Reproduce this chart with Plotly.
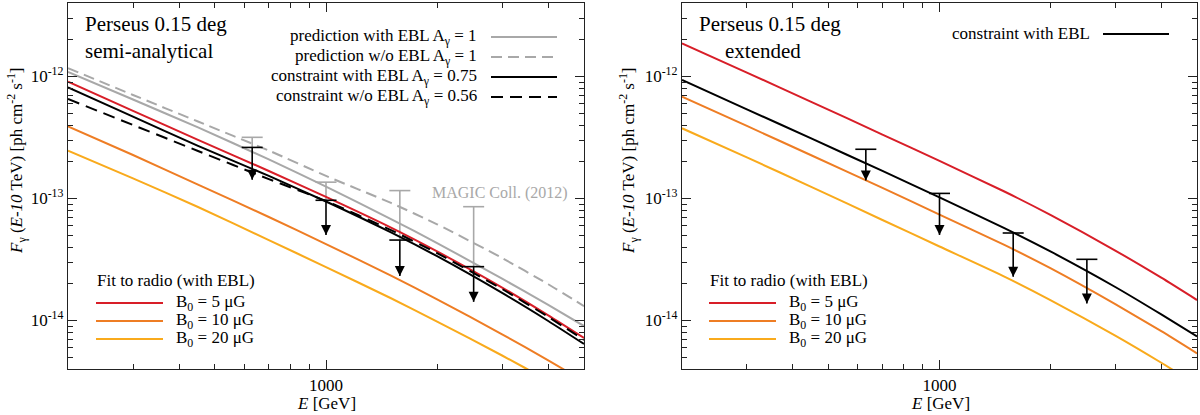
import plotly.graph_objects as go

energy = [200, 300, 450, 700, 1000, 1500, 2000, 3000, 4000, 5000]

# left panel: semi-analytical, F(E-10 TeV) in ph cm^-2 s^-1
pred_ebl = [1.09e-12, 6.47e-13, 3.82e-13, 2.09e-13, 1.25e-13, 6.78e-14, 4.31e-14, 2.20e-14, 1.34e-14, 9.0e-15]
pred_noebl = [1.17e-12, 7.05e-13, 4.27e-13, 2.47e-13, 1.53e-13, 9.19e-14, 6.14e-14, 3.25e-14, 1.98e-14, 1.31e-14]
constr_ebl = [8.15e-13, 4.69e-13, 2.70e-13, 1.53e-13, 9.44e-14, 5.27e-14, 3.36e-14, 1.68e-14, 9.90e-15, 6.41e-15]
constr_noebl = [6.53e-13, 4.00e-13, 2.45e-13, 1.44e-13, 9.53e-14, 5.50e-14, 3.56e-14, 1.81e-14, 1.07e-14, 6.92e-15]
radio5 = [9.05e-13, 5.23e-13, 3.02e-13, 1.68e-13, 1.03e-13, 5.77e-14, 3.68e-14, 1.86e-14, 1.10e-14, 7.18e-15]
radio10 = [3.90e-13, 2.27e-13, 1.30e-13, 7.05e-14, 4.23e-14, 2.33e-14, 1.49e-14, 7.70e-15, 4.71e-15, 3.17e-15]
radio20 = [2.46e-13, 1.46e-13, 8.51e-14, 4.56e-14, 2.74e-14, 1.52e-14, 9.80e-15, 5.16e-15, 3.21e-15, 2.20e-15]

# right panel: extended
ext_constr = [9.35e-13, 5.38e-13, 3.09e-13, 1.68e-13, 1.02e-13, 5.72e-14, 3.68e-14, 1.88e-14, 1.12e-14, 7.39e-15]
ext_radio5 = [1.87e-12, 1.075e-12, 6.17e-13, 3.34e-13, 2.03e-13, 1.14e-13, 7.33e-14, 3.74e-14, 2.24e-14, 1.47e-14]
ext_radio10 = [6.82e-13, 3.93e-13, 2.25e-13, 1.22e-13, 7.38e-14, 4.16e-14, 2.68e-14, 1.36e-14, 8.16e-15, 5.37e-15]
ext_radio20 = [3.76e-13, 2.17e-13, 1.24e-13, 6.66e-14, 4.04e-14, 2.29e-14, 1.47e-14, 7.51e-15, 4.50e-15, 2.96e-15]

# upper limits (cap value and arrow tip)
ul_energy = [631, 1000, 1585, 2512]
ul_semi = [2.62e-13, 9.66e-14, 4.56e-14, 2.76e-14]
ul_semi_tip = [1.42e-13, 5.02e-14, 2.31e-14, 1.42e-14]
ul_ext = [2.53e-13, 1.10e-13, 5.21e-14, 3.17e-14]
ul_ext_tip = [1.40e-13, 5.02e-14, 2.28e-14, 1.38e-14]
magic_top = [3.17e-13, 1.36e-13, 1.16e-13, 8.56e-14]

xtick_vals = [1000]
xtick_text = ['1000']
xminor_vals = [300, 400, 500, 600, 700, 800, 900, 2000, 3000, 4000]
ytick_vals = [1e-14, 1e-13, 1e-12]
ytick_text = ['10<sup>-14</sup>', '10<sup>-13</sup>', '10<sup>-12</sup>']
yminor_vals = [m * d for d in (1e-15, 1e-14, 1e-13, 1e-12) for m in range(2, 10)
               if 4e-15 < m * d < 4e-12]

RED = '#d81e28'
ORANGE = '#ee7d24'
YELLOW = '#f9aa1c'
GRAY = '#a8a8a8'
FONT = 'Liberation Serif'


def curve(y, color, dash='solid', xa='x', ya='y'):
    return go.Scatter(x=energy, y=y, mode='lines', xaxis=xa, yaxis=ya,
                      line=dict(color=color, width=2, dash=dash, shape='spline', smoothing=0.6),
                      showlegend=False, hoverinfo='skip')


def stems(top, bottom):
    xs, ys = [], []
    for e, t, b in zip(ul_energy, top, bottom):
        xs += [e, e, None]
        ys += [t, b, None]
    return xs, ys


def limits(top, tip, xa, ya):
    xs, ys = stems(top, tip)
    return [
        go.Scatter(x=xs, y=ys, mode='lines', xaxis=xa, yaxis=ya,
                   line=dict(color='black', width=1.6), showlegend=False, hoverinfo='skip'),
        go.Scatter(x=ul_energy, y=top, mode='markers', xaxis=xa, yaxis=ya,
                   marker=dict(symbol='line-ew', size=15, line=dict(color='black', width=1.6)),
                   showlegend=False, hoverinfo='skip'),
        go.Scatter(x=ul_energy, y=tip, mode='markers', xaxis=xa, yaxis=ya,
                   marker=dict(symbol='arrow-down', size=10, color='black', line=dict(width=0)),
                   showlegend=False, hoverinfo='skip'),
    ]


fig = go.Figure()

# left panel
fig.add_trace(curve(radio20, YELLOW))
fig.add_trace(curve(radio10, ORANGE))
fig.add_trace(curve(pred_ebl, GRAY))
fig.add_trace(curve(pred_noebl, GRAY, '11px,6px'))
mx, my = stems(magic_top, ul_semi)
fig.add_trace(go.Scatter(x=mx, y=my, mode='lines', line=dict(color=GRAY, width=1.6),
                         showlegend=False, hoverinfo='skip'))
fig.add_trace(go.Scatter(x=ul_energy, y=magic_top, mode='markers',
                         marker=dict(symbol='line-ew', size=15, line=dict(color=GRAY, width=1.6)),
                         showlegend=False, hoverinfo='skip'))
fig.add_trace(curve(radio5, RED))
fig.add_trace(curve(constr_ebl, 'black'))
fig.add_trace(curve(constr_noebl, 'black', '12px,7px'))
for t in limits(ul_semi, ul_semi_tip, 'x', 'y'):
    fig.add_trace(t)

# right panel
fig.add_trace(curve(ext_radio20, YELLOW, xa='x2', ya='y2'))
fig.add_trace(curve(ext_radio10, ORANGE, xa='x2', ya='y2'))
fig.add_trace(curve(ext_radio5, RED, xa='x2', ya='y2'))
fig.add_trace(curve(ext_constr, 'black', xa='x2', ya='y2'))
for t in limits(ul_ext, ul_ext_tip, 'x2', 'y2'):
    fig.add_trace(t)

axis_common = dict(showline=True, linecolor='#222', linewidth=1.2, mirror='ticks',
                   ticks='inside', ticklen=9, tickwidth=1, tickcolor='#222',
                   showgrid=False, zeroline=False,
                   tickfont=dict(family=FONT, size=17, color='black'))
xaxis_common = dict(axis_common, type='log', range=[2.30103, 3.69897],
                    tickmode='array', tickvals=xtick_vals, ticktext=xtick_text,
                    minor=dict(ticks='inside', ticklen=5, tickwidth=1, tickcolor='#222',
                               tickvals=xminor_vals, showgrid=False))
yaxis_common = dict(axis_common, type='log', range=[-14.39794, -11.39794],
                    tickmode='array', tickvals=ytick_vals, ticktext=ytick_text,
                    minor=dict(ticks='inside', ticklen=5, tickwidth=1, tickcolor='#222',
                               tickvals=yminor_vals, showgrid=False))

fig.update_layout(
    width=1200, height=415,
    margin=dict(l=0, r=0, t=3, b=46),
    paper_bgcolor='white', plot_bgcolor='white',
    font=dict(family=FONT, size=17, color='black'),
    xaxis=dict(xaxis_common, domain=[68 / 1200, 584 / 1200], anchor='y'),
    yaxis=dict(yaxis_common, domain=[0, 1], anchor='x'),
    xaxis2=dict(xaxis_common, domain=[682 / 1200, 1197 / 1200], anchor='y2'),
    yaxis2=dict(yaxis_common, domain=[0, 1], anchor='x2'),
)


def px(x):
    return x / 1200


def py(y):
    return (369 - y) / 366


ann = []
shapes = []


def text(x, y, s, size=17, anchor='left', color='black', angle=0):
    ann.append(dict(x=px(x), y=py(y), xref='paper', yref='paper', text=s, showarrow=False,
                    xanchor=anchor, yanchor='middle', textangle=angle,
                    font=dict(family=FONT, size=size, color=color)))


def sample(x0, x1, y, color, dash='solid'):
    shapes.append(dict(type='line', xref='paper', yref='paper', x0=px(x0), x1=px(x1),
                       y0=py(y), y1=py(y), line=dict(color=color, width=2, dash=dash)))


# titles
text(83, 24, 'Perseus 0.15 deg', 21)
text(83, 51, 'semi-analytical', 21)
text(697, 24, 'Perseus 0.15 deg', 21)
text(723, 51, 'extended', 21)

# top legend, left panel
top_rows = [
    ('prediction with EBL A<sub>γ</sub> = 1', GRAY, 'solid'),
    ('prediction w/o EBL A<sub>γ</sub> = 1', GRAY, '11px,6px'),
    ('constraint with EBL A<sub>γ</sub> = 0.75', 'black', 'solid'),
    ('constraint w/o EBL A<sub>γ</sub> = 0.56', 'black', '12px,7px'),
]
for i, (label, color, dash) in enumerate(top_rows):
    y = 37 + i * 20
    text(479, y, label, 17, anchor='right')
    sample(491, 557, y, color, dash)

# top legend, right panel
text(1092, 34, 'constraint with EBL', 17, anchor='right')
sample(1103, 1169, 34, 'black')

# radio-fit legends
radio_rows = [('B<sub>0</sub> = 5 μG', RED), ('B<sub>0</sub> = 10 μG', ORANGE),
              ('B<sub>0</sub> = 20 μG', YELLOW)]
for x0 in (68, 682):
    off = 28 if x0 == 68 else 27
    text(x0 + off - 1, 280, 'Fit to radio (with EBL)', 17)
    for i, (label, color) in enumerate(radio_rows):
        y = 303 + i * 18
        sample(x0 + off, x0 + off + 67, y, color)
        text(x0 + off + 78, y, label, 17)

text(570, 193, 'MAGIC Coll. (2012)', 16, anchor='right', color=GRAY)

# axis titles
ytitle = '<i>F</i><sub>γ</sub> (<i>E-10</i> TeV) [ph cm<sup>-2</sup> s<sup>-1</sup>]'
text(16, 161, ytitle, 17, anchor='center', angle=-90)
text(628, 161, ytitle, 17, anchor='center', angle=-90)
text(326, 403, '<i>E</i> [GeV]', 17, anchor='center')
text(940, 403, '<i>E</i> [GeV]', 17, anchor='center')

fig.update_layout(annotations=ann, shapes=shapes)

# page body margin off so the 1200x415 figure fills the window exactly
fig.write_html("out.html", config={'displayModeBar': False},
               post_script="document.body.style.margin = '0';")
